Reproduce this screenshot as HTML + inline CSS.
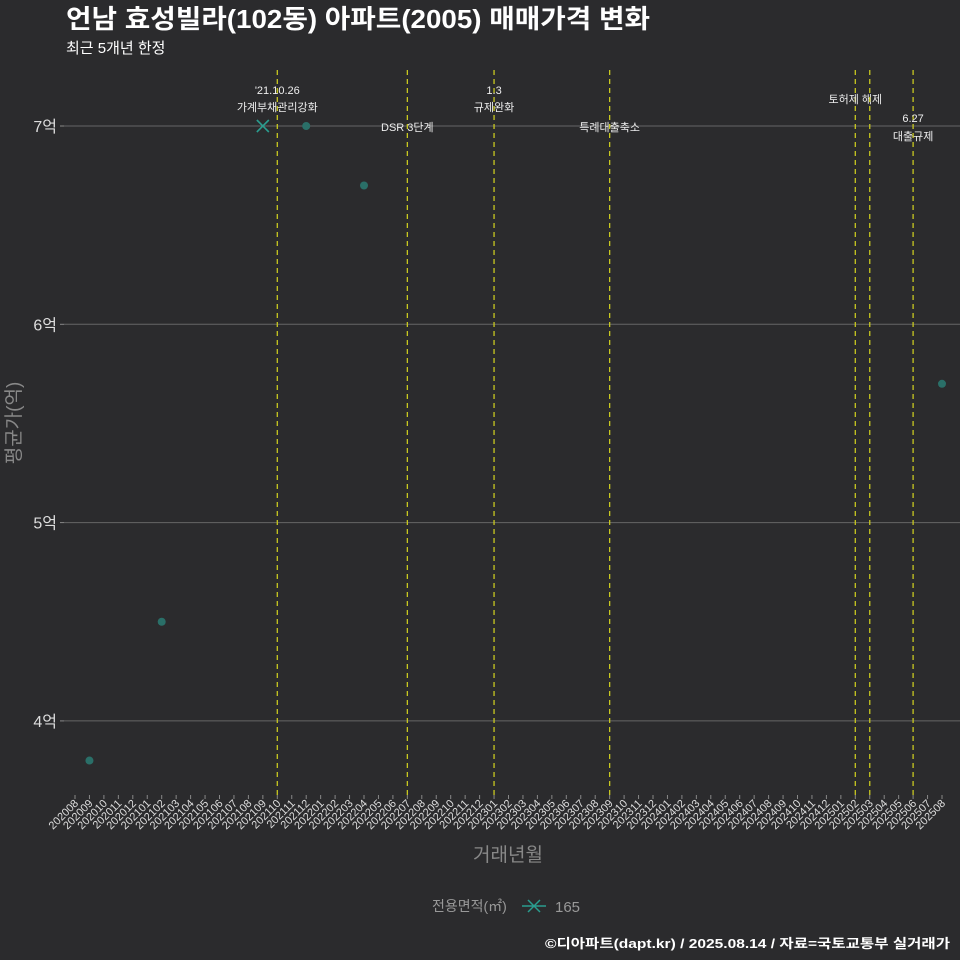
<!DOCTYPE html>
<html><head><meta charset="utf-8"><style>
body{margin:0;background:#2b2b2d;}
svg{display:block;font-family:"Liberation Sans","Noto Sans CJK KR",sans-serif;}
</style></head><body>
<svg id="c" width="960" height="960" viewBox="0 0 960 960">
<rect width="960" height="960" fill="#2b2b2d"/>
<text x="66" y="28" font-size="26" font-weight="bold" fill="#fff" textLength="584" lengthAdjust="spacingAndGlyphs">언남 효성빌라(102동) 아파트(2005) 매매가격 변화</text>
<text x="66" y="53" font-size="15" fill="#fff">최근 5개년 한정</text>
<g id="grid"></g>
<g id="yaxis"></g>
<g id="xaxis"></g>
<g id="events"></g>
<g id="marks"></g>
<text x="20" y="423" font-size="19" fill="#888" text-anchor="middle" transform="rotate(-90 20 423)">평균가(억)</text>
<text x="508" y="861" font-size="19" fill="#888" text-anchor="middle">거래년월</text>
<g>
<text x="432" y="911" font-size="14" fill="#999">전용면적(㎡)</text>
<g>
<line x1="522" y1="906" x2="546" y2="906" stroke="#2a9d8f" stroke-width="1.5"/>
<path d="M528 900 L540 912 M540 900 L528 912" stroke="#2a9d8f" stroke-width="1.5"/>
<text x="555" y="912" font-size="15" fill="#999">165</text></g>
</g>
<text x="950" y="948" font-size="13" font-weight="bold" fill="#fff" text-anchor="end" textLength="405" lengthAdjust="spacingAndGlyphs">©디아파트(dapt.kr) / 2025.08.14 / 자료=국토교통부 실거래가</text>
</svg>
<script>
const months=[];for(let y=2020,m=8;!(y===2025&&m===9);){months.push(y+String(m).padStart(2,'0'));m++;if(m>12){m=1;y++;}}
const ptMonths=['202009','202102','202109','202112','202204','202508'];
const ptValues=[3.8,4.5,7.0,7.0,6.7,5.7];
const ptCross=[false,false,true,false,false,false];
const yTicks=[4,5,6,7];
const evMonths=['202110','202207','202301','202309','202502','202503','202506'];
const evLabels=[["'21.10.26","가계부채관리강화"],["DSR 3단계"],["1.3","규제완화"],["특례대출축소"],["토허제 해제"],[],["6.27","대출규제"]];
const evLabelY=[[94,111],[131],[94,111],[131],[103],[],[122,140]];
const NS='http://www.w3.org/2000/svg';
function mk(t,a,p){const e=document.createElementNS(NS,t);for(const k in a)e.setAttribute(k,a[k]);p.appendChild(e);return e;}
const x=m=>75+months.indexOf(m)*(942-75)/(months.length-1);
const y=v=>126+(7-v)*198.3;
const G=document.getElementById('grid'),YA=document.getElementById('yaxis'),XA=document.getElementById('xaxis'),EV=document.getElementById('events'),MK=document.getElementById('marks');
yTicks.forEach(v=>{
 const l=mk('line',{x1:64,x2:960,y1:y(v),y2:y(v),stroke:'#666','stroke-width':1},G);
 
 
 mk('line',{x1:60,x2:64,y1:y(v),y2:y(v),stroke:'#888'},YA);
 const t=mk('text',{x:57,y:y(v)+6,'font-size':16,fill:'#ddd','text-anchor':'end'},YA);t.textContent=v+'억';
 
 
});
months.forEach(m=>{
 const xx=x(m);
 mk('line',{x1:xx,x2:xx,y1:795,y2:799,stroke:'#888'},XA);
 const t=mk('text',{x:xx+4,y:804,'font-size':11,fill:'#ddd','text-anchor':'end',transform:`rotate(-45 ${xx+4} 804)`},XA);t.textContent=m;
 
 
});
evMonths.forEach((m,i)=>{
 const xx=x(m);
 const l=mk('line',{x1:xx,x2:xx,y1:70,y2:798,stroke:'#c8c820','stroke-width':1.3,'stroke-dasharray':'5,4'},EV);
 
 
 evLabels[i].forEach((s,j)=>{const t=mk('text',{x:xx,y:evLabelY[i][j],'font-size':11,fill:'#eee','text-anchor':'middle'},EV);t.textContent=s;
 
 });
});
ptMonths.forEach((m,i)=>{
 const cx=x(m),cy=y(ptValues[i]);let e;
 if(ptCross[i]){e=mk('path',{d:`M${cx-6} ${cy-6}L${cx+6} ${cy+6}M${cx+6} ${cy-6}L${cx-6} ${cy+6}`,stroke:'#2a9d8f','stroke-width':1.6},MK);}
 else e=mk('circle',{cx,cy,r:4,fill:'#2a6f68'},MK);
 
 
});
</script>
</body></html>
